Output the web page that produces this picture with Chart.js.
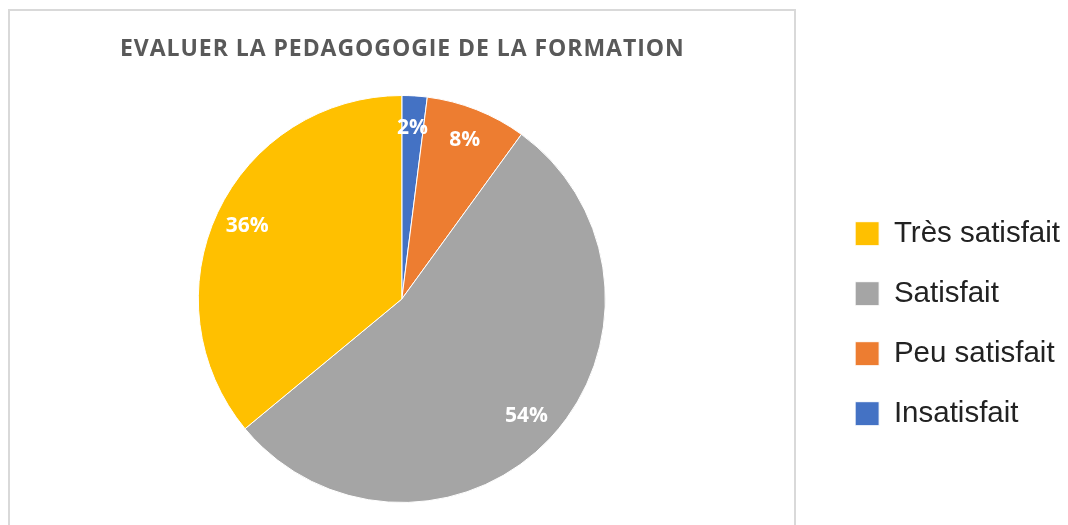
<!DOCTYPE html>
<html>
<head>
<meta charset="utf-8">
<script src="https://cdn.jsdelivr.net/npm/chart.js@4"></script>
<style>
  body { margin: 0; background: #fff; overflow: hidden; }
  #cadre { position: absolute; left: 8px; top: 9px; width: 788px; height: 600px; border: 2px solid #d9d9d9; box-sizing: border-box; }
  #grafico { position: absolute; left: -21px; top: 0; }
</style>
</head>
<body>
<div id="cadre"></div>
<canvas id="grafico" width="1091" height="525"></canvas>
<script>
// ordre du camembert (sens horaire depuis midi)
let categories = ['Insatisfait', 'Peu satisfait', 'Satisfait', 'Très satisfait']
let valeurs = [2, 8, 54, 36]
let couleurs = ['#4472C4', '#ED7D31', '#A5A5A5', '#FFC000']
let titre = 'EVALUER LA PEDAGOGOGIE DE LA FORMATION'

// titre avec espacement des lettres
const titrePlugin = {
    id: 'titreEspace',
    afterDraw(chart) {
        const ctx = chart.ctx
        const area = chart.chartArea
        ctx.save()
        ctx.font = 'bold 23px "Open Sans"'
        ctx.letterSpacing = '0.95px'
        ctx.fillStyle = '#595959'
        ctx.textAlign = 'center'
        ctx.textBaseline = 'middle'
        ctx.fillText(titre, (area.left + area.right) / 2 + 0.5, 49)
        ctx.restore()
    }
}

// pourcentages dans les parts
const etiquettesPlugin = {
    id: 'etiquettes',
    afterDatasetsDraw(chart) {
        const ctx = chart.ctx
        const meta = chart.getDatasetMeta(0)
        ctx.save()
        ctx.font = 'bold 21px "Open Sans"'
        ctx.fillStyle = '#ffffff'
        ctx.textAlign = 'center'
        ctx.textBaseline = 'middle'
        meta.data.forEach((arc, i) => {
            const p = arc.getProps(['x', 'y', 'startAngle', 'endAngle', 'outerRadius'], true)
            const milieu = (p.startAngle + p.endAngle) / 2
            const r = p.outerRadius * 0.84
            ctx.fillText(valeurs[i] + '%', p.x + Math.cos(milieu) * r, p.y + Math.sin(milieu) * r)
        })
        ctx.restore()
    }
}

let ctx = document.getElementById('grafico')
new Chart(ctx, {
    type: 'pie',
    data: {
        labels: categories,
        datasets: [{
            data: valeurs,
            backgroundColor: couleurs,
            borderColor: '#ffffff',
            borderWidth: 1
        }]
    },
    options: {
        responsive: false,
        animation: false,
        layout: {
            padding: { left: 0, right: 0, top: 95, bottom: 22 }
        },
        plugins: {
            title: { display: false },
            tooltip: { enabled: false },
            legend: {
                position: 'right',
                fullSize: false,
                reverse: true,
                title: { display: true, text: '', padding: { top: 35, bottom: 0 } },
                labels: {
                    boxWidth: 24,
                    boxHeight: 24,
                    padding: 30.5,
                    color: '#222222',
                    font: { family: '"Liberation Sans", Arial', size: 29.5 }
                }
            }
        }
    },
    plugins: [titrePlugin, etiquettesPlugin]
});
</script>
</body>
</html>
